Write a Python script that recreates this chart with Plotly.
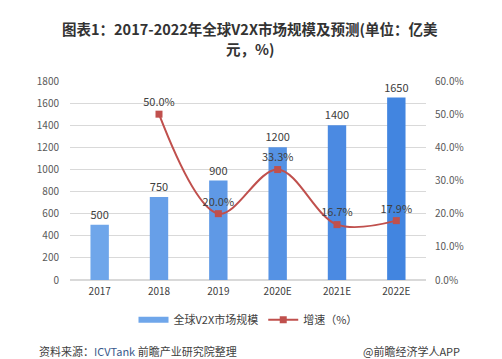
import plotly.graph_objects as go

categories = ["2017", "2018", "2019", "2020E", "2021E", "2022E"]
market_size = [500, 750, 900, 1200, 1400, 1650]
growth_cats = ["2018", "2019", "2020E", "2021E", "2022E"]
growth = [50.0, 20.0, 33.3, 16.7, 17.9]
left_ticks = list(range(0, 1801, 200))
right_ticks = [0, 10, 20, 30, 40, 50, 60]

bar_colors = ["#6fa6ea", "#679fe8", "#5f99e6", "#5592e4", "#4b8ae2", "#4285e0"]
font = "Noto Sans CJK SC, Noto Sans, sans-serif"

fig = go.Figure()
fig.add_trace(go.Bar(
    x=categories, y=market_size, name="全球V2X市场规模", showlegend=False,
    marker=dict(color=bar_colors, line=dict(width=0)),
    width=0.31,
    text=[str(v) for v in market_size], textposition="outside",
    constraintext="none",
    textfont=dict(size=11, color="#404040"), cliponaxis=False,
))
# legend stand-in for the bar series (wide flat swatch)
fig.add_trace(go.Scatter(
    x=[None], y=[None], name="全球V2X市场规模", mode="lines",
    line=dict(color="#6fa6ea", width=6), showlegend=True,
))
fig.add_trace(go.Scatter(
    x=growth_cats, y=growth, name="增速（%）", yaxis="y2",
    mode="lines+markers+text",
    line=dict(color="#c0504d", width=2, shape="spline", smoothing=1.0),
    marker=dict(symbol="square", size=7, color="#c0504d"),
    text=[f"{v:.1f}%" for v in growth], textposition="top center",
    textfont=dict(size=11, color="#404040"), cliponaxis=False,
))

fig.update_layout(
    width=494, height=351,
    margin=dict(l=62, r=76, t=73, b=79),
    paper_bgcolor="white", plot_bgcolor="white",
    font=dict(family=font, color="#595959", size=10),
    xaxis=dict(type="category", categoryorder="array", categoryarray=categories,
               showgrid=False, showline=False, ticks="", ticklabelstandoff=4,
               tickfont=dict(size=10, color="#404040")),
    yaxis=dict(range=[0, 1800], tickvals=left_ticks, showgrid=True,
               gridcolor="#d9d9d9", gridwidth=1, zeroline=True,
               zerolinecolor="#d9d9d9", ticks="", ticklabelstandoff=10,
               tickfont=dict(size=10, color="#595959")),
    yaxis2=dict(range=[0, 60], tickvals=right_ticks,
                ticktext=[f"{v:.1f}%" for v in right_ticks],
                overlaying="y", side="right", showgrid=False, zeroline=False,
                ticks="", ticklabelstandoff=8,
                tickfont=dict(size=10, color="#595959")),
    bargap=0.69,
    showlegend=True,
    legend=dict(orientation="h", x=0.5, xanchor="center", y=-0.2, yanchor="middle",
                font=dict(size=11, color="#404040"), itemwidth=30,
                traceorder="normal"),
)

fig.add_annotation(text="<b>图表1：2017-2022年全球V2X市场规模及预测(单位：亿美</b>",
                   xref="paper", yref="paper", x=0.5, y=1 + (81 - 31) / 191,
                   xanchor="center", yanchor="middle", showarrow=False,
                   font=dict(size=14.5, color="#333333"), xshift=2)
fig.add_annotation(text="<b>元，%)</b>",
                   xref="paper", yref="paper", x=0.5, y=1 + (81 - 50) / 191,
                   xanchor="center", yanchor="middle", showarrow=False,
                   font=dict(size=14.5, color="#333333"), xshift=2)

fig.add_annotation(text="资料来源：<span style='color:#3a5a8c'>ICVTank</span> 前瞻产业研究院整理",
                   xref="paper", yref="paper", x=0, y=-0.356,
                   xanchor="left", yanchor="middle", showarrow=False,
                   font=dict(size=11, color="#404040"), xshift=-33)
fig.add_annotation(text="@前瞻经济学人APP", xref="paper", yref="paper",
                   x=1, y=-0.356, xanchor="right", yanchor="middle",
                   showarrow=False, font=dict(size=11, color="#404040"), xshift=36)

fig.write_html("out.html")
